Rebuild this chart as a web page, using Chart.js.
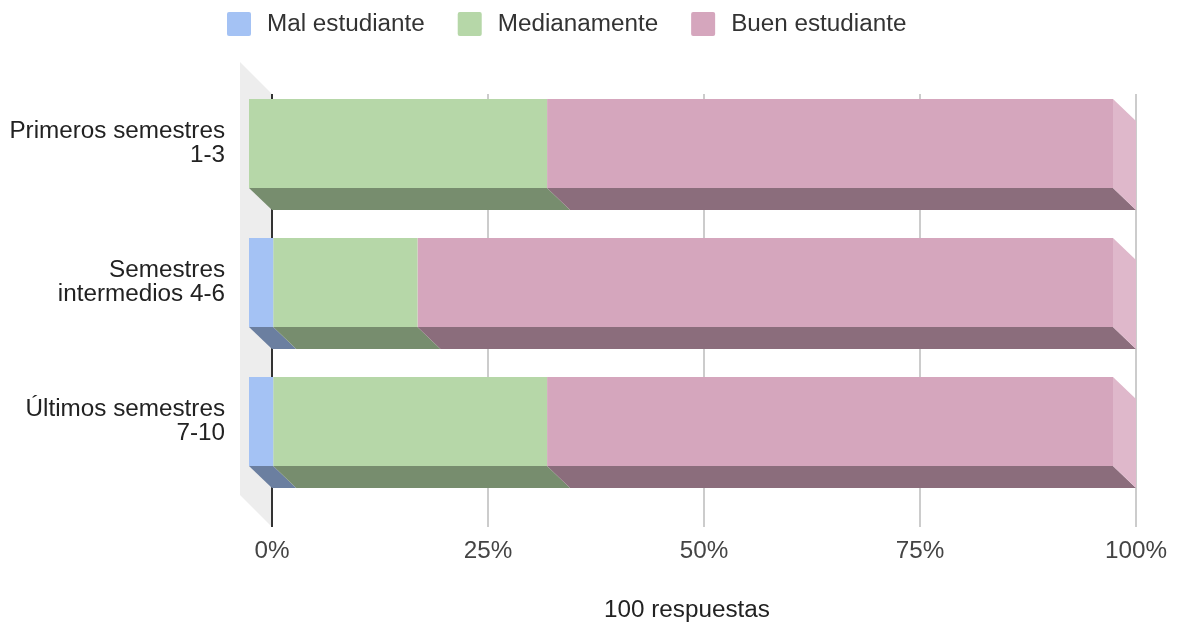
<!DOCTYPE html>
<html>
<head>
<meta charset="utf-8">
<style>
  html, body { margin: 0; background: #fff; }
  #wrap { width: 1178px; height: 623px; }
</style>
<script src="https://cdn.jsdelivr.net/npm/chart.js@4"></script>
</head>
<body>
<div id="wrap"><canvas id="chart"></canvas></div>
<script>
var categories = [['Primeros semestres', '1-3'], ['Semestres', 'intermedios 4-6'], ['Últimos semestres', '7-10']];
var malEstudiante = [0, 2.8, 2.8];
var medianamente = [34.5, 16.7, 31.7];
var buenEstudiante = [65.5, 80.5, 65.5];
var xTicks = [0, 25, 50, 75, 100];
var xTitle = '100 respuestas';

var font = '"Liberation Sans"';
var fontSize = 24.25;
var depthX = 23;
var depthY = 22;

function poly(ctx, pts, color) {
  ctx.fillStyle = color;
  ctx.beginPath();
  ctx.moveTo(pts[0][0], pts[0][1]);
  for (var i = 1; i < pts.length; i++) ctx.lineTo(pts[i][0], pts[i][1]);
  ctx.closePath();
  ctx.fill();
}

// fake 3d: back wall, grid lines, side faces, then bars shifted to the front plane
var fake3d = {
  id: 'fake3d',
  beforeDatasetsDraw: function (chart) {
    var ctx = chart.ctx, x = chart.scales.x, area = chart.chartArea;
    var top = area.top + 20, bottom = area.bottom + 36;
    var x0 = x.getPixelForValue(0);
    poly(ctx, [[x0 - 32, top - 32], [x0, top], [x0, bottom], [x0 - 32, bottom - 32]], '#ededed');
    xTicks.forEach(function (t) {
      var px = x.getPixelForValue(t);
      ctx.fillStyle = t === 0 ? '#333333' : '#cccccc';
      ctx.fillRect(px - 1, top, 2, bottom - top);
    });
    chart.data.datasets.forEach(function (ds, d) {
      chart.getDatasetMeta(d).data.forEach(function (el) {
        if (Math.abs(el.x - el.base) < 0.5) return;
        var yt = el.y - el.height / 2, yb = el.y + el.height / 2;
        poly(ctx, [[el.base - depthX, yb], [el.x - depthX, yb], [el.x, yb + depthY], [el.base, yb + depthY]], ds.sideColor);
        if (d === chart.data.datasets.length - 1) {
          poly(ctx, [[el.x - depthX, yt], [el.x, yt + depthY], [el.x, yb + depthY], [el.x - depthX, yb]], ds.endColor);
        }
      });
    });
    ctx.save();
    ctx.translate(-depthX, 0);
  },
  afterDatasetsDraw: function (chart) {
    chart.ctx.restore();
  },
  afterDraw: function (chart) {
    var ctx = chart.ctx;
    ctx.save();
    ctx.font = fontSize + 'px ' + font;
    ctx.textBaseline = 'middle';
    ctx.textAlign = 'left';
    // legend
    var lx = 227;
    chart.data.datasets.forEach(function (ds) {
      ctx.fillStyle = ds.backgroundColor;
      ctx.beginPath();
      ctx.roundRect(lx, 12, 24, 24, 2);
      ctx.fill();
      ctx.fillStyle = '#333333';
      ctx.fillText(ds.label, lx + 40, 24);
      lx += 40 + ctx.measureText(ds.label).width + 33;
    });
    // axis title, centred on the wall + plot
    ctx.textAlign = 'center';
    ctx.fillStyle = '#222222';
    ctx.fillText(xTitle, chart.scales.x.getPixelForValue(50) - 17, 610);
    ctx.restore();
  }
};

new Chart(document.getElementById('chart'), {
  type: 'bar',
  data: {
    labels: categories,
    datasets: [
      { label: 'Mal estudiante', data: malEstudiante, backgroundColor: '#a4c2f4', sideColor: '#6b7fa0', endColor: '#c0d4f7', clip: false },
      { label: 'Medianamente', data: medianamente, backgroundColor: '#b6d7a8', sideColor: '#778d6e', endColor: '#cde3c3', clip: false },
      { label: 'Buen estudiante', data: buenEstudiante, backgroundColor: '#d5a6bd', sideColor: '#8b6d7c', endColor: '#dfb8cb', clip: false }
    ]
  },
  plugins: [fake3d],
  options: {
    indexAxis: 'y',
    responsive: true,
    maintainAspectRatio: false,
    animation: false,
    categoryPercentage: 1,
    barPercentage: 0.64,
    layout: { padding: { top: 74, right: 42 } },
    plugins: { legend: { display: false }, tooltip: { enabled: false } },
    scales: {
      x: {
        stacked: true,
        min: 0,
        max: 100,
        afterBuildTicks: function (scale) {
          scale.ticks = xTicks.map(function (v) { return { value: v }; });
        },
        afterFit: function (scale) {
          scale.height = 132;
          scale.paddingLeft = 0;
          scale.paddingRight = 0;
        },
        grid: { display: false },
        border: { display: false },
        ticks: {
          padding: 38,
          maxRotation: 0,
          font: { family: font, size: fontSize },
          color: '#444444',
          callback: function (v) { return v + '%'; }
        }
      },
      y: {
        stacked: true,
        afterFit: function (scale) { scale.width = 272; },
        grid: { display: false },
        border: { display: false },
        ticks: {
          padding: 39,
          font: { family: font, size: fontSize, lineHeight: 1 },
          color: '#222222'
        }
      }
    }
  }
});
</script>
</body>
</html>
